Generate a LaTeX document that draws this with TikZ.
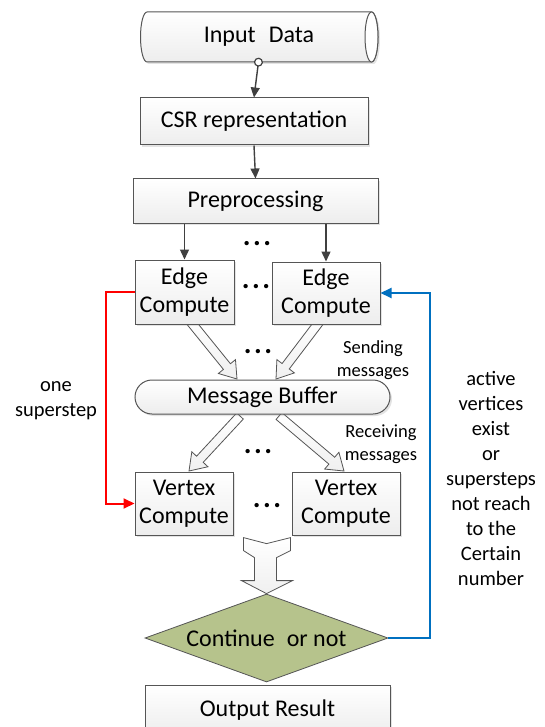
\documentclass[tikz,border=0pt]{standalone}
\usepackage{fontspec}
\setmainfont{Carlito}
\usetikzlibrary{shapes.geometric,shapes.misc,arrows.meta,calc,shadows}
\definecolor{boxline}{RGB}{85,85,85}
\definecolor{conncol}{RGB}{64,64,64}
\definecolor{diagreen}{RGB}{182,195,140}
\definecolor{loopblue}{RGB}{0,112,192}
\definecolor{loopred}{RGB}{255,0,0}
\newcommand\fbig{\fontsize{24}{28.5}\selectfont}
\newcommand\fdots{\fontsize{29}{30}\selectfont}
\newcommand\fmid{\fontsize{20.5}{25}\selectfont}
\newcommand\fsmall{\fontsize{18.5}{23}\selectfont}
\newcommand\dts{\textbf{.\hspace{2.6pt}.\hspace{2.6pt}.}}
\newcommand\blockarr[5]{%
  \coordinate (hb) at ($(#2)!#5!(#1)$);
  \draw[harrow] ($(#1)!#3!90:(#2)$) -- ($(hb)!#3!90:(#2)$) -- ($(hb)!#4!90:(#2)$) -- (#2)
    -- ($(hb)!#4!-90:(#2)$) -- ($(hb)!#3!-90:(#2)$) -- ($(#1)!#3!-90:(#2)$) -- cycle;}
\tikzset{
  shad/.style={drop shadow={opacity=0.22,shadow xshift=2pt,shadow yshift=-2pt}},
  box/.style={rectangle, draw=boxline, line width=1pt, top color=white, bottom color=gray!14,
    shad, inner sep=0pt, align=center, font=\fbig},
  buf/.style={rounded rectangle, draw=boxline, line width=1pt, top color=white, bottom color=gray!14,
    shad, inner sep=0pt, font=\fbig},
  cylbody/.style={draw=boxline, line width=1pt, top color=white, bottom color=gray!14, shad},
  dia/.style={diamond, draw=boxline, line width=0.8pt, fill=diagreen, shape aspect=2.76,
    inner sep=0pt, minimum width=243pt, minimum height=88pt, font=\fbig},
  conn/.style={draw=conncol, line width=1.4pt, -{Triangle[length=10pt,width=9pt]}},
  harrow/.style={draw=boxline, line width=0.8pt, top color=white, bottom color=gray!12, line join=miter},
  redloop/.style={draw=loopred, line width=2pt, -{Triangle[length=11pt,width=10pt]}},
  blueloop/.style={draw=loopblue, line width=2pt, -{Triangle[length=11pt,width=10pt]}},
  lbl/.style={align=center, inner sep=0pt},
  dotsn/.style={font=\fdots, inner sep=0pt},
}
\begin{document}
\begin{tikzpicture}[x=1pt,y=-1pt]
\clip (0,0) rectangle (545,727);
\fill[white] (0,0) rectangle (545,727);

% block arrows (drawn first, under the boxes)
\coordinate (e1s) at (190,321);
\coordinate (e2s) at (320,321);
\coordinate (mbs1) at (240,416);
\coordinate (mbs2) at (279,416);
\coordinate (mbt1) at (237,379);
\coordinate (mbt2) at (276,379);
\coordinate (v1t) at (189,471);
\coordinate (v2t) at (344,471);
\blockarr{e1s}{mbt1}{4.5pt}{11pt}{16pt}
\blockarr{e2s}{mbt2}{4.5pt}{11pt}{16pt}
\blockarr{mbs1}{v1t}{4.5pt}{11pt}{16pt}
\blockarr{mbs2}{v2t}{4.5pt}{11pt}{16pt}

% input data cylinder (horizontal)
\path[cylbody] (147,12) -- (371.5,12) arc (-90:90:6.5 and 25) -- (147,62) arc (90:270:6.5 and 25) -- cycle;
\draw[boxline, line width=1pt, fill=white] (371.5,37) ellipse (6.5 and 25);
\node[inner sep=0pt, minimum width=238pt, minimum height=50pt, font=\fbig] (in) at (259,37) {Input\hspace{0.55em}Data};

% nodes
\node[box, minimum width=228pt, minimum height=47pt] (csr) at (254,121.5) {CSR representation};
\node[box, minimum width=245pt, minimum height=44pt] (pre) at (255.5,201) {Preprocessing};
\node[box, minimum width=99pt, minimum height=64pt] (e1) at (184.5,292) {Edge\\Compute};
\node[box, minimum width=108pt, minimum height=62pt] (e2) at (326,293) {Edge\\Compute};
\node[buf, minimum width=255pt, minimum height=34pt] (mb) at (262.5,397) {Message Buffer};
\node[box, minimum width=98pt, minimum height=63pt] (v1) at (184,503.5) {Vertex\\Compute};
\node[box, minimum width=108pt, minimum height=63pt] (v2) at (346,503.5) {Vertex\\Compute};
\node[dia] (dc) at (266.5,638) {Continue\hspace{0.5em}or not};
\node[box, minimum width=245pt, minimum height=50pt] (out) at (267.5,710) {Output Result};

% big down arrow into the decision
\coordinate (bt) at (dc.north);
\draw[harrow] ($(bt)+(-23,-56)$) -- ($(bt)+(0,-50)$) -- ($(bt)+(24,-56)$) -- ($(bt)+(24,-43)$)
  -- ($(bt)+(10,-36)$) -- ($(bt)+(10,-13)$) -- ($(bt)+(26,-13)$) -- (bt)
  -- ($(bt)+(-25,-13)$) -- ($(bt)+(-12,-13)$) -- ($(bt)+(-12,-36)$) -- ($(bt)+(-23,-43)$) -- cycle;

% connectors
\draw[conncol, line width=1.4pt, {Circle[open,length=9pt,width=9pt,fill=white,line width=1.2pt]}-{Triangle[length=10pt,width=9pt]}]
  ($(in.south)+(0,-4.5)$) -- (csr.north);
\draw[conn] (csr.south) -- (pre.north);
\draw[conn] (pre.south -| e1.north) -- (e1.north);
\draw[conn] (pre.south -| e2.north) -- (e2.north);
\draw[redloop] (e1.west) -- ++(-29,0) |- (v1.west);
\draw[blueloop] (dc.east) -- ++(42,0) |- (e2.east);

% dots
\node[dotsn] (d1) at (257,244) {\dts};
\node[dotsn] (d2) at (256,287) {\dts};
\node[dotsn] (d3) at (258,352) {\dts};
\node[dotsn] (d4) at (258,452) {\dts};
\node[dotsn] (d5) at (267,506) {\dts};

% labels
\node[lbl, font=\fsmall] (snd) at (373,360) {Sending\\messages};
\node[lbl, font=\fsmall] (rcv) at (381,444) {Receiving\\messages};
\node[lbl, font=\fmid] (one) at (56,401) {one\\superstep};
\node[lbl, font=\fmid] (cond) at (491,478) {active\\vertices\\exist\\or\\supersteps\\not reach\\to the\\Certain\\number};
\end{tikzpicture}
\end{document}
